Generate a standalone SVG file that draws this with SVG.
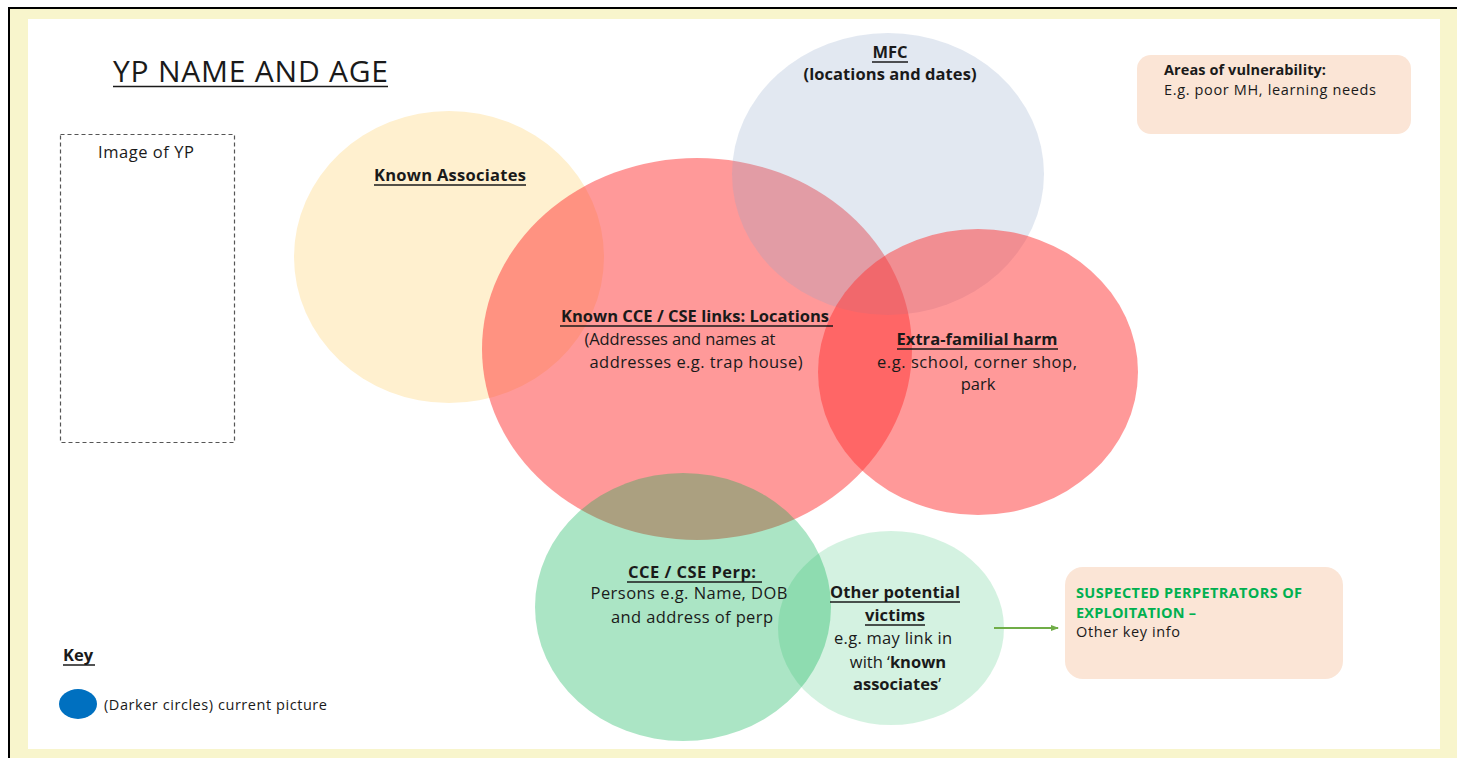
<svg xmlns="http://www.w3.org/2000/svg" width="1457" height="758" viewBox="0 0 1457 758">
<style>
text{font-family:"Open Sans","Liberation Sans",sans-serif;fill:#1a1a1a}
.b{font-weight:bold}
.t{font-size:16.5px}
.s{font-size:14.5px}
.ul{stroke:#1a1a1a;stroke-width:1.5}
</style>
<defs>
<marker id="ah" markerWidth="8" markerHeight="8" refX="7" refY="4" orient="auto" markerUnits="userSpaceOnUse">
<path d="M0,1 L8,4 L0,7 Z" fill="#70AD47"/>
</marker>
</defs>
<rect x="0" y="0" width="1457" height="758" fill="#ffffff"/>
<rect x="9" y="8" width="1460" height="760" fill="#F8F5CC" stroke="#000" stroke-width="2"/>
<rect x="28" y="19" width="1412" height="730" fill="#ffffff"/>

<g id="title">
<text x="113" y="82" font-size="30" textLength="275">YP NAME AND AGE</text>
<line class="ul" x1="113" y1="86.5" x2="388" y2="86.5" stroke-width="2"/>
</g>

<g id="image-yp">
<rect x="60.5" y="134.5" width="174" height="308" fill="none" stroke="#555" stroke-width="1.2" stroke-dasharray="4,3"/>
<text x="146" y="158" class="t" text-anchor="middle" textLength="96">Image of YP</text>
</g>

<g id="known-associates">
<ellipse cx="449" cy="257" rx="155" ry="146" fill="#FFF0CF"/>
<text x="450" y="181" class="t b" text-anchor="middle" textLength="152">Known Associates</text>
<line class="ul" x1="374" y1="185" x2="526" y2="185"/>
</g>

<g id="cce-locations">
<ellipse cx="697" cy="349" rx="215" ry="191" fill="#FF3333" fill-opacity="0.5"/>
</g>

<g id="mfc">
<ellipse cx="888" cy="174" rx="156" ry="141" fill="#8FA5C8" fill-opacity="0.26"/>
<text x="890" y="58" class="t b" text-anchor="middle">MFC</text>
<line class="ul" x1="872" y1="62" x2="908" y2="62"/>
<text x="890" y="80" class="t b" text-anchor="middle" textLength="173">(locations and dates)</text>
</g>

<g id="extra-familial">
<ellipse cx="978" cy="372" rx="160" ry="143" fill="#FF3333" fill-opacity="0.5"/>
</g>

<g id="perp">
<ellipse cx="683" cy="607" rx="148" ry="134" fill="#00B050" fill-opacity="0.33"/>
</g>

<g id="other-victims">
<ellipse cx="891" cy="628" rx="113" ry="97" fill="#00B050" fill-opacity="0.17"/>
</g>

<g id="labels">
<text x="695" y="322" class="t b" text-anchor="middle" textLength="268">Known CCE / CSE links: Locations</text>
<line class="ul" x1="560" y1="326" x2="833" y2="326"/>
<text x="680" y="345" class="t" text-anchor="middle" textLength="191">(Addresses and names at</text>
<text x="696" y="368" class="t" text-anchor="middle" textLength="213">addresses e.g. trap house)</text>

<text x="977" y="345" class="t b" text-anchor="middle" textLength="161">Extra-familial harm</text>
<line class="ul" x1="897" y1="349" x2="1058" y2="349"/>
<text x="977" y="368" class="t" text-anchor="middle" textLength="200">e.g. school, corner shop,</text>
<text x="978" y="390" class="t" text-anchor="middle">park</text>

<text x="692" y="578" class="t b" text-anchor="middle" textLength="128">CCE / CSE Perp:</text>
<line class="ul" x1="627" y1="582" x2="762" y2="582"/>
<text x="689" y="599" class="t" text-anchor="middle" textLength="197">Persons e.g. Name, DOB</text>
<text x="692" y="623" class="t" text-anchor="middle" textLength="162">and address of perp</text>

<text x="895" y="598" class="t b" text-anchor="middle" textLength="130">Other potential</text>
<line class="ul" x1="830" y1="602" x2="960" y2="602"/>
<text x="895" y="621" class="t b" text-anchor="middle" textLength="60">victims</text>
<line class="ul" x1="865" y1="625" x2="925" y2="625"/>
<text x="893" y="644" class="t" text-anchor="middle" textLength="118">e.g. may link in</text>
<text x="898" y="668" class="t" text-anchor="middle">with ‘<tspan class="b">known</tspan></text>
<text x="897" y="690" class="t" text-anchor="middle"><tspan class="b">associates</tspan>’</text>
</g>

<g id="connectors">
<line x1="994" y1="628" x2="1058" y2="628" stroke="#70AD47" stroke-width="2" marker-end="url(#ah)"/>
</g>

<g id="suspected-perpetrators">
<rect x="1065" y="567" width="278" height="112" rx="18" fill="#FBE5D6"/>
<text x="1076" y="598" class="s b" style="fill:#00B050" textLength="226">SUSPECTED PERPETRATORS OF</text>
<text x="1076" y="618" class="s b" style="fill:#00B050" textLength="120">EXPLOITATION –</text>
<text x="1076" y="637" class="s" textLength="104">Other key info</text>
</g>

<g id="vulnerability">
<rect x="1137" y="55" width="274" height="79" rx="14" fill="#FBE5D6"/>
<text x="1164" y="75" class="s b" textLength="162">Areas of vulnerability:</text>
<text x="1164" y="95" class="s" textLength="212">E.g. poor MH, learning needs</text>
</g>

<g id="key">
<text x="63" y="661" class="t b">Key</text>
<line class="ul" x1="63" y1="665" x2="95" y2="665"/>
<ellipse cx="78" cy="704" rx="19" ry="15" fill="#0070C0"/>
<text x="104" y="710" class="s" textLength="223">(Darker circles) current picture</text>
</g>
</svg>
